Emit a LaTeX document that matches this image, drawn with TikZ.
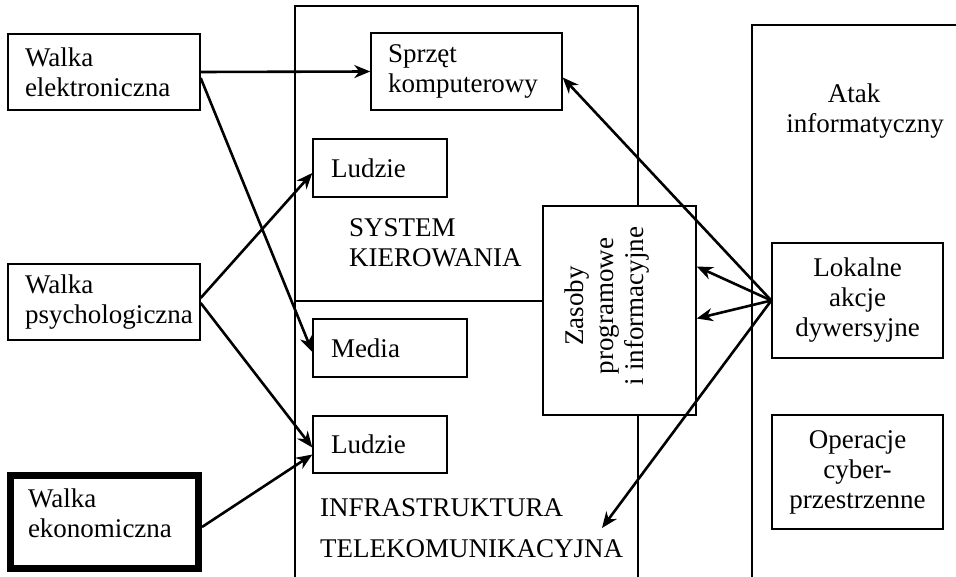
\documentclass[tikz,border=0pt]{standalone}
\usepackage{fontspec}
\setmainfont{Liberation Serif}
\usetikzlibrary{arrows.meta}
\hyphenpenalty=10000
\exhyphenpenalty=10000
\begin{document}
\begin{tikzpicture}[x=1pt,y=-1pt,
  txt/.style={font=\fontsize{27}{30}\selectfont},
  box/.style={draw, line width=1.4pt, fill=white, rectangle, inner sep=0pt, txt},
  lbox/.style={box, align=left},
  cbox/.style={box, align=center},
  bigframe/.style={line width=1.3pt},
  arr/.style={line width=2.6pt, -{Stealth[length=16pt,width=13pt,inset=5pt]}}]
\useasboundingbox (0,0) rectangle (956,577);

% large frames
\draw[bigframe] (295,580) -- (295,6) -- (638,6) -- (638,580);
\draw[bigframe] (295,301) -- (560,301);
\draw[bigframe] (752,580) -- (752,25) -- (960,25);

% left column
\node[lbox, minimum width=192pt, minimum height=76pt, text width=158pt] (we) at (104,72) {Walka\\elektroniczna};
\node[lbox, minimum width=192pt, minimum height=76pt, text width=158pt] (wp) at (104,302) {Walka\\psychologiczna};
\node[lbox, line width=7pt, minimum width=188pt, minimum height=93pt, text width=153pt, text depth=48pt] (wek) at (104.5,522) {Walka\\ekonomiczna};

% middle column
\node[lbox, minimum width=191pt, minimum height=77pt, text width=157pt] (sprzet) at (466.5,71.5) {Sprzęt\\komputerowy};
\node[lbox, minimum width=134pt, minimum height=58pt, text width=98pt] (ludzieA) at (380,168) {Ludzie};
\node[txt, anchor=west, align=left, inner sep=0pt] (sk) at (349,243) {SYSTEM\\KIEROWANIA};
\node[lbox, minimum width=154pt, minimum height=58pt, text width=118pt] (media) at (390,348) {Media};
\node[lbox, minimum width=134pt, minimum height=57pt, text width=98pt] (ludzieB) at (380,444.5) {Ludzie};
\node[txt, anchor=west, align=left, inner sep=0pt] (infra) at (320,528) {INFRASTRUKTURA\\[11pt]TELEKOMUNIKACYJNA};

% Zasoby box
\node[box, minimum width=153pt, minimum height=209pt] (zas) at (619.5,310.5) {};
\node[txt, rotate=90, align=center, inner sep=0pt] (zast) at (607,306) {Zasoby\\programowe\\i informacyjne};

% right column
\node[txt, align=center, inner sep=0pt] (atak) at (865,111) {Atak\hspace*{22pt}\\informatyczny};
\node[cbox, minimum width=171pt, minimum height=115pt] (lok) at (857.5,300.5) {Lokalne\\akcje\\dywersyjne};
\node[cbox, minimum width=171pt, minimum height=114pt] (op) at (857.5,472) {Operacje\\cyber-\\przestrzenne};

% arrows
\coordinate (infratip) at (602,528);
\draw[arr] (we.east) -- (sprzet.west);
\draw[arr] ([yshift=-6pt]we.east) -- ([yshift=-4pt]media.west);
\draw[arr] ([yshift=4pt]wp.east) -- ([yshift=-5pt]ludzieA.west);
\draw[arr] ([yshift=-1pt]wp.east) -- ([yshift=-3pt]ludzieB.west);
\draw[arr] ([yshift=-5pt]wek.east) -- ([yshift=-10pt]ludzieB.west);
\draw[arr] (lok.west) -- ([yshift=-6pt]sprzet.east);
\draw[arr] (lok.west) -- ([yshift=44pt]zas.east);
\draw[arr] (lok.west) -- ([yshift=-8pt]zas.east);
\draw[arr] (lok.west) -- (infratip);
\end{tikzpicture}
\end{document}
